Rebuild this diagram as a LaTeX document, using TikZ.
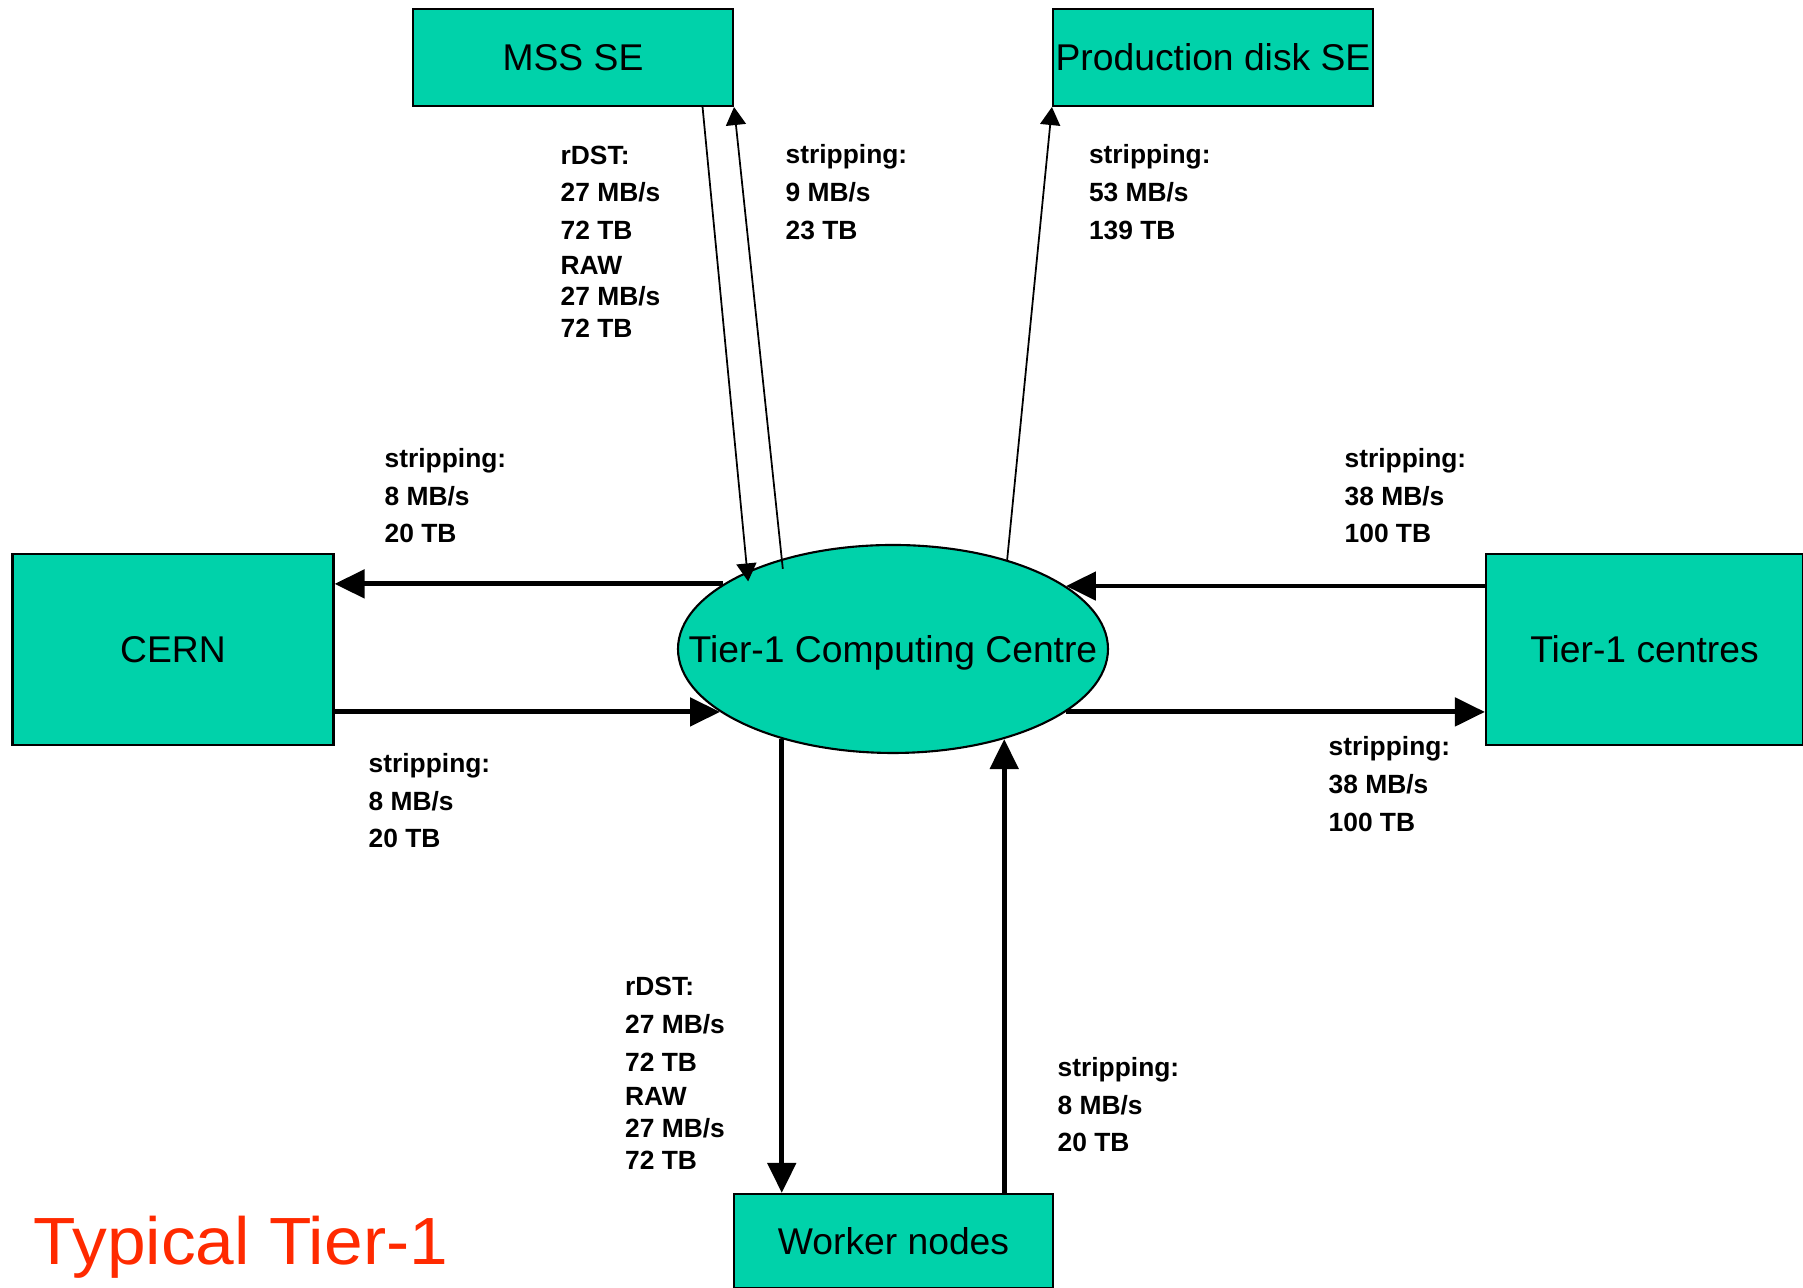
\documentclass[tikz,border=0pt]{standalone}
\usepackage{fontspec}
\setmainfont{Liberation Sans}
\newfontfamily\titlefont[FakeStretch=1.04]{Liberation Sans}
\usetikzlibrary{arrows.meta,shapes.geometric}
\definecolor{tealx}{HTML}{00D2AA}
\definecolor{redx}{HTML}{FF2A00}
\tikzset{
  box/.style={draw=black,line width=0.6pt,fill=tealx,inner sep=0pt,font=\fontsize{10.6}{12}\selectfont},
  bigar/.style={-{Triangle[length=3mm,width=2.8mm]},line width=1.4pt},
  ar/.style={-{Triangle[length=1.8mm,width=2mm]},line width=0.5pt},
  lbl/.style={anchor=base west,inner sep=0pt,align=left,font=\fontsize{7.5}{10.8}\selectfont\bfseries}
}
\begin{document}
\begin{tikzpicture}
\useasboundingbox (0,0) rectangle (18.03,12.88);
% storage, sites and the centre
\node[box,minimum width=3.2cm,minimum height=0.97cm] (mss) at (5.73,12.305) {MSS SE};
\node[box,minimum width=3.2cm,minimum height=0.97cm] (prod) at (12.13,12.305) {Production disk SE};
\node[box,minimum width=3.21cm,minimum height=1.91cm] (cern) at (1.73,6.385) {CERN};
\node[box,minimum width=3.17cm,minimum height=1.91cm] (tierc) at (16.445,6.385) {Tier-1 centres};
\node[box,minimum width=3.19cm,minimum height=0.94cm] (work) at (8.935,0.47) {Worker nodes};
\node[box,ellipse,minimum width=4.3cm,minimum height=2.08cm,text depth=0pt] (ell) at (8.93,6.39) {\makebox[0pt]{Tier-1 Computing Centre}};
% thick flows
\draw[bigar] (ell.159.5) -- (ell.159.5 -| cern.east);
\draw[bigar] (ell.200.5 -| cern.east) -- (ell.200.5);
\draw[bigar] (ell.20.5 -| tierc.west) -- (ell.20.5);
\draw[bigar] (ell.-20.5) -- (ell.-20.5 -| tierc.west);
\draw[bigar] (ell.219.2) -- (ell.219.2 |- work.north);
\draw[bigar] (ell.321.5 |- work.north) -- (ell.321.5);
% thin flows
\draw[ar,shorten >=-1mm] ([xshift=-3.15mm]mss.south east) -- (ell.152);
\draw[ar,shorten <=-1mm] (ell.141.5) -- (mss.south east);
\draw[ar] (ell.38) -- (prod.south west);
% rates (anchored on the last line)
\node[lbl] (lmssa) at (5.60,9.50) {rDST:\\27 MB/s\\72 TB\\[-1.1pt]RAW\\[-1.7pt]27 MB/s\\[-1.7pt]72 TB};
\node[lbl] (lmssb) at (7.85,10.487) {stripping:\\9 MB/s\\23 TB};
\node[lbl] (lprod) at (10.883,10.487) {stripping:\\53 MB/s\\139 TB};
\node[lbl] (lcerna) at (3.84,7.45) {stripping:\\8 MB/s\\20 TB};
\node[lbl] (lcernb) at (3.68,4.40) {stripping:\\8 MB/s\\20 TB};
\node[lbl] (ltiera) at (13.44,7.45) {stripping:\\38 MB/s\\100 TB};
\node[lbl] (ltierb) at (13.28,4.565) {stripping:\\38 MB/s\\100 TB};
\node[lbl] (lworka) at (6.245,1.185) {rDST:\\27 MB/s\\72 TB\\[-1.1pt]RAW\\[-1.7pt]27 MB/s\\[-1.7pt]72 TB};
\node[lbl] (lworkb) at (10.57,1.36) {stripping:\\8 MB/s\\20 TB};
\node[anchor=base west,inner sep=0pt,text=redx,font=\titlefont\fontsize{19}{22}\selectfont] (title) at (0.33,0.23) {Typical Tier-1};
\end{tikzpicture}
\end{document}
